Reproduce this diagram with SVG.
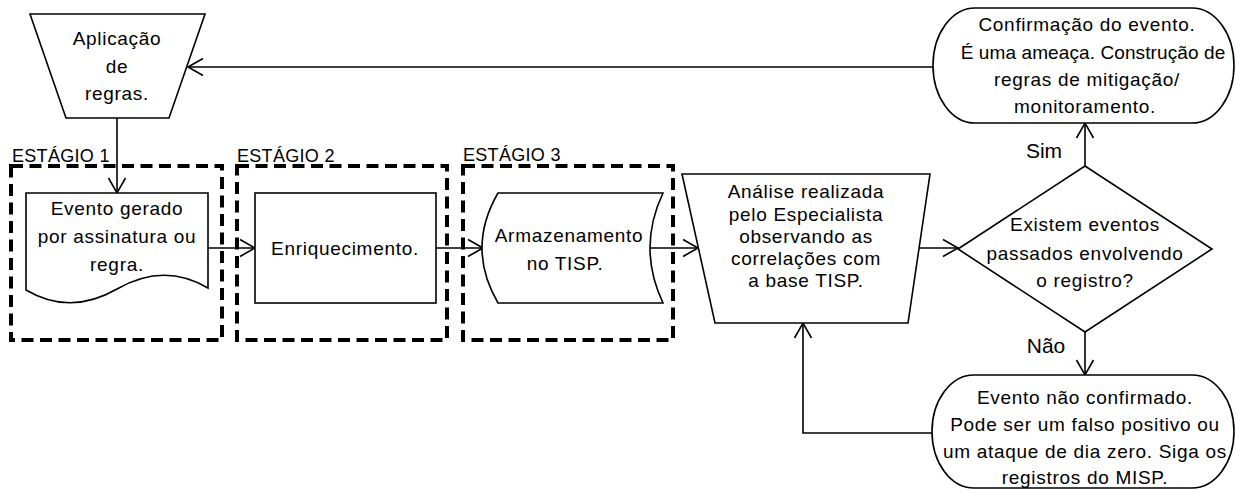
<svg xmlns="http://www.w3.org/2000/svg" width="1236" height="489" viewBox="0 0 1236 489">
<defs>
<marker id="arr" markerUnits="userSpaceOnUse" markerWidth="20" markerHeight="20" viewBox="0 0 20 20" refX="16" refY="10" orient="auto">
<path d="M1,1.5 L16,10 L1,18.5" fill="none" stroke="#000" stroke-width="1.6"/>
</marker>
<style>
.shape{fill:#fff;stroke:#000;stroke-width:1.6}
.stage{fill:none;stroke:#000;stroke-width:4;stroke-dasharray:12 6.5}
.conn{fill:none;stroke:#000;stroke-width:1.6}
text{font-family:"Liberation Sans",Arial,sans-serif;fill:#000}
.t{font-size:19px;letter-spacing:0.7px;text-anchor:middle}
.lbl{font-size:18px;letter-spacing:0.3px}
.yn{font-size:21px;text-anchor:middle}
</style>
</defs>
<rect width="1236" height="489" fill="#fff"/>

<g id="stage1">
<rect class="stage" x="11" y="166" width="211" height="174"/>
<text class="lbl" x="12" y="162">ESTÁGIO 1</text>
</g>
<g id="stage2">
<rect class="stage" x="237" y="166" width="210" height="174"/>
<text class="lbl" x="237" y="162">ESTÁGIO 2</text>
</g>
<g id="stage3">
<rect class="stage" x="463" y="166" width="210" height="174"/>
<text class="lbl" x="463" y="161">ESTÁGIO 3</text>
</g>

<g id="connectors">
<path class="conn" d="M933,67 L188,67" marker-end="url(#arr)"/>
<path class="conn" d="M117,118 L117,193" marker-end="url(#arr)"/>
<path class="conn" d="M208,248 L255,248" marker-end="url(#arr)"/>
<path class="conn" d="M436,248 L483,248" marker-end="url(#arr)"/>
<path class="conn" d="M650,248 L698,248" marker-end="url(#arr)"/>
<path class="conn" d="M919,248 L958,248" marker-end="url(#arr)"/>
<path class="conn" d="M1085,166 L1085,123" marker-end="url(#arr)"/>
<path class="conn" d="M1085,332 L1085,375" marker-end="url(#arr)"/>
<path class="conn" d="M932,433 L803,433 L803,323" marker-end="url(#arr)"/>
<text class="yn" x="1044" y="158">Sim</text>
<text class="yn" x="1046" y="353">Não</text>
</g>

<g id="aplicacao">
<polygon class="shape" points="30,14 205,14 169,118 66,118"/>
<text class="t" x="117" y="45">Aplicação</text>
<text class="t" x="117" y="73">de</text>
<text class="t" x="117" y="100">regras.</text>
</g>

<g id="evento">
<path class="shape" d="M26,193 L208,193 L208,288 Q164,262 117,289 Q70,316 26,290 Z"/>
<text class="t" x="117" y="215">Evento gerado</text>
<text class="t" x="117" y="243">por assinatura ou</text>
<text class="t" x="117" y="271">regra.</text>
</g>

<g id="enriquecimento">
<rect class="shape" x="255" y="193" width="181" height="110"/>
<text class="t" x="345" y="255">Enriquecimento.</text>
</g>

<g id="armazenamento">
<path class="shape" d="M498,193 L663,193 Q637,248 663,303 L498,303 Q466,248 498,193 Z"/>
<text class="t" x="569" y="242">Armazenamento</text>
<text class="t" x="565" y="270">no TISP.</text>
</g>

<g id="analise">
<polygon class="shape" points="682,174 930,174 908,323 715,323"/>
<text class="t" x="806" y="198">Análise realizada</text>
<text class="t" x="806" y="221">pelo Especialista</text>
<text class="t" x="806" y="243">observando as</text>
<text class="t" x="806" y="265">correlações com</text>
<text class="t" x="806" y="287">a base TISP.</text>
</g>

<g id="decisao">
<polygon class="shape" points="958,249 1085,166 1212,249 1085,332"/>
<text class="t" x="1085" y="231">Existem eventos</text>
<text class="t" x="1085" y="260">passados envolvendo</text>
<text class="t" x="1085" y="287">o registro?</text>
</g>

<g id="confirmacao">
<rect class="shape" x="933" y="8" width="301" height="115" rx="42" ry="57.5"/>
<text class="t" x="1087" y="31">Confirmação do evento.</text>
<text class="t" x="1093" y="59" style="letter-spacing:0.1px">É uma ameaça. Construção de</text>
<text class="t" x="1087" y="86">regras de mitigação/</text>
<text class="t" x="1085" y="113">monitoramento.</text>
</g>

<g id="nao-confirmado">
<rect class="shape" x="932" y="375" width="302" height="113" rx="42" ry="56.5"/>
<text class="t" x="1085" y="404">Evento não confirmado.</text>
<text class="t" x="1085" y="431">Pode ser um falso positivo ou</text>
<text class="t" x="1085" y="458">um ataque de dia zero. Siga os</text>
<text class="t" x="1085" y="484">registros do MISP.</text>
</g>
</svg>
